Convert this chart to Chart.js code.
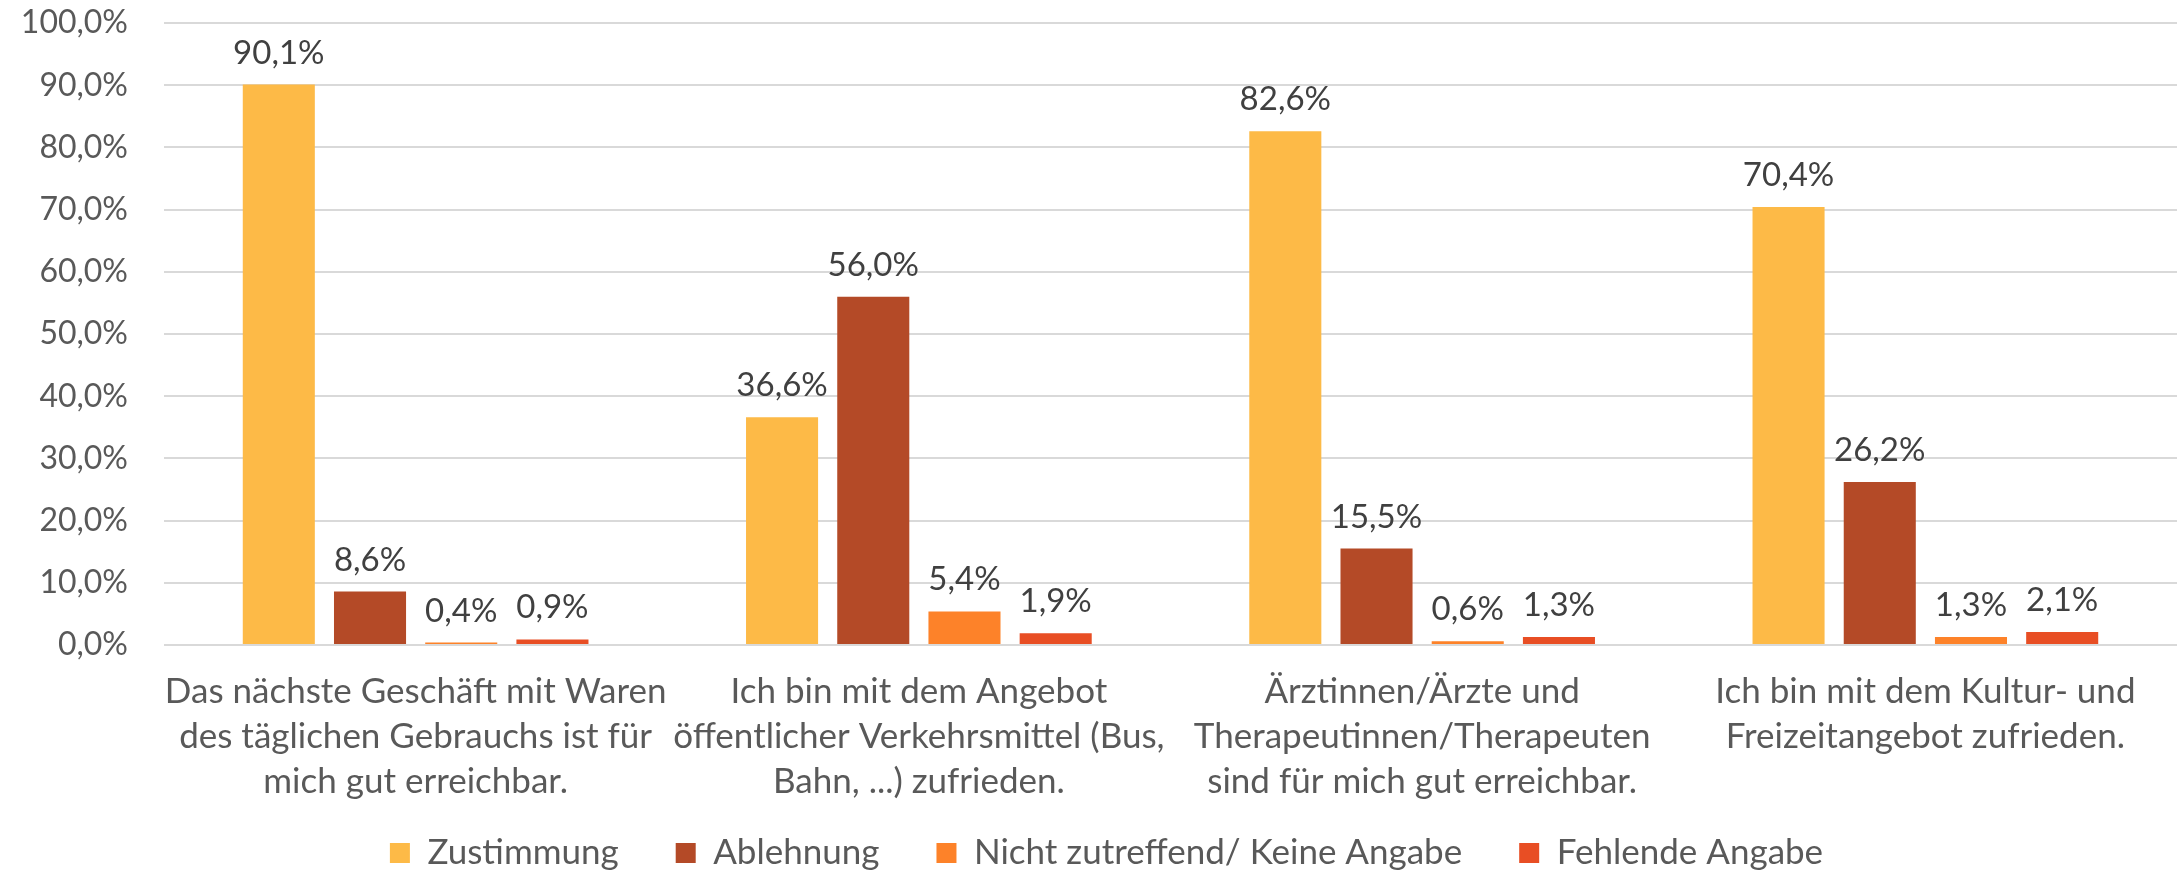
<!DOCTYPE html>
<html>
<head>
<meta charset="utf-8">
<script src="https://cdn.jsdelivr.net/npm/chart.js@4"></script>
<style>
html,body{margin:0;padding:0;background:#fff;}
#wrap{width:2178px;height:873px;position:relative;}
</style>
</head>
<body>
<div id="wrap"><canvas id="c" width="2178" height="873"></canvas></div>
<script>
const categories = [
  ["Das nächste Geschäft mit Waren", "des täglichen Gebrauchs ist für", "mich gut erreichbar."],
  ["Ich bin mit dem Angebot", "öffentlicher Verkehrsmittel (Bus,", "Bahn, ...) zufrieden."],
  ["Ärztinnen/Ärzte und", "Therapeutinnen/Therapeuten", "sind für mich gut erreichbar."],
  ["Ich bin mit dem Kultur- und", "Freizeitangebot zufrieden."]
];
const seriesNames = ["Zustimmung", "Ablehnung", "Nicht zutreffend/ Keine Angabe", "Fehlende Angabe"];
const zustimmung = [90.1, 36.6, 82.6, 70.4];
const ablehnung = [8.6, 56.0, 15.5, 26.2];
const nichtZutreffend = [0.4, 5.4, 0.6, 1.3];
const fehlend = [0.9, 1.9, 1.3, 2.1];
const yTicks = [0, 10, 20, 30, 40, 50, 60, 70, 80, 90, 100];

const colors = ["#FDBA47", "#B44A27", "#FD8229", "#E84E24"];
const FONT = "Lato";
const LEGEND_SIZE = 35;
const LEGEND_PAD = 57;
const fmt = v => v.toFixed(1).replace('.', ',') + '%';

const labelPlugin = {
  id: 'barLabels',
  afterDatasetsDraw(chart) {
    const ctx = chart.ctx;
    ctx.save();
    ctx.font = "33px " + FONT;
    ctx.fillStyle = "#404040";
    ctx.textAlign = "center";
    ctx.textBaseline = "alphabetic";
    chart.data.datasets.forEach((ds, di) => {
      const meta = chart.getDatasetMeta(di);
      meta.data.forEach((bar, i) => {
        ctx.fillText(fmt(ds.data[i]), bar.x, bar.y - 21);
      });
    });
    ctx.restore();
  }
};

// place the legend row so that its centre line sits where the reference has it
const legendPlace = {
  id: 'legendPlace',
  beforeDraw(chart) {
    const lg = chart.legend;
    if (!lg) return;
    lg.top = 853 - LEGEND_SIZE / 2 - LEGEND_PAD;
    lg.bottom = chart.height;
    lg.height = lg.bottom - lg.top;
    lg.left += 18;
    lg.right += 18;
  }
};

const data = {
  labels: categories,
  datasets: [
    {label: seriesNames[0], data: zustimmung, backgroundColor: colors[0]},
    {label: seriesNames[1], data: ablehnung, backgroundColor: colors[1]},
    {label: seriesNames[2], data: nichtZutreffend, backgroundColor: colors[2]},
    {label: seriesNames[3], data: fehlend, backgroundColor: colors[3]}
  ]
};

new Chart(document.getElementById('c'), {
  type: 'bar',
  data: data,
  plugins: [labelPlugin, legendPlace],
  options: {
    responsive: false,
    animation: false,
    devicePixelRatio: 1,
    layout: {padding: {top: 23, right: 1, bottom: 0, left: 0}},
    datasets: {bar: {categoryPercentage: 0.725, barPercentage: 0.79}},
    plugins: {
      legend: {
        position: 'bottom',
        maxHeight: 53,
        labels: {
          font: {family: FONT, size: LEGEND_SIZE},
          color: '#595959',
          boxWidth: 20,
          boxHeight: 20,
          padding: LEGEND_PAD
        }
      },
      tooltip: {enabled: false}
    },
    scales: {
      x: {
        grid: {display: false, drawTicks: false},
        border: {display: false},
        ticks: {
          font: {family: FONT, size: 35, lineHeight: 45/35},
          color: '#595959',
          padding: 24,
          maxRotation: 0,
          autoSkip: false
        },
        afterFit(s) { s.height = 175; s.paddingLeft = 0; s.paddingRight = 0; }
      },
      y: {
        min: 0, max: 100,
        afterBuildTicks(s) { s.ticks = yTicks.map(v => ({value: v})); },
        grid: {color: '#D9D9D9', lineWidth: 2, drawTicks: false},
        border: {display: false},
        ticks: {
          font: {family: FONT, size: 32},
          color: '#595959',
          padding: 36,
          callback: v => fmt(v)
        },
        afterFit(s) { s.width = 164; s.paddingTop = 0; s.paddingBottom = 0; }
      }
    }
  }
});
</script>
</body>
</html>
